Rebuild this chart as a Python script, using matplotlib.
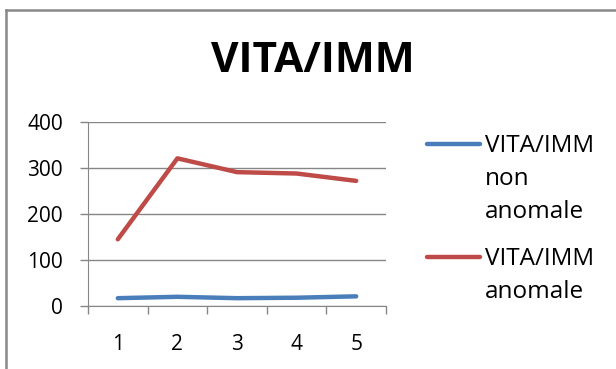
import matplotlib.pyplot as plt
from matplotlib.lines import Line2D

# dati
categorie = [1, 2, 3, 4, 5]
non_anomale = [17, 20, 17, 18, 21]
anomale = [145, 321, 291, 288, 272]
etichette = ['VITA/IMM\nnon\nanomale', 'VITA/IMM\nanomale']

blu = '#4A7EBB'
rosso = '#BE4B48'
grigio = '#868686'

plt.rcParams['font.family'] = ['Open Sans', 'DejaVu Sans']

fig = plt.figure(figsize=(6.16, 3.69), dpi=100)
ax = fig.add_axes([88 / 616, 1 - 306 / 369, 298 / 616, 184 / 369])

ax.plot(categorie, non_anomale, color=blu, lw=3.2, solid_capstyle='round')
ax.plot(categorie, anomale, color=rosso, lw=3.2, solid_capstyle='round')

ax.set_xlim(0.5, 5.5)
ax.set_ylim(0, 400)
ax.set_yticks([0, 100, 200, 300, 400])
ax.grid(axis='y', color=grigio, lw=1)
ax.set_axisbelow(True)

# tacche tra le categorie, etichette al centro
ax.set_xticks([0.5, 1.5, 2.5, 3.5, 4.5, 5.5])
ax.set_xticklabels([])
ax.set_xticks(categorie, minor=True)
ax.set_xticklabels([str(c) for c in categorie], minor=True)
ax.tick_params(axis='x', which='major', length=6, color=grigio, width=1)
ax.tick_params(axis='x', which='minor', length=0, pad=20, labelsize=15)
ax.tick_params(axis='y', length=6, color=grigio, width=1, pad=12, labelsize=15)

for s in ['top', 'right']:
    ax.spines[s].set_visible(False)
ax.spines['left'].set_color(grigio)
ax.spines['bottom'].set_color(grigio)

fig.text(0.508, 1 - 61 / 369, 'VITA/IMM', ha='center', va='center',
         fontsize=30.5, fontweight='bold')

# legenda
for ys, col, lab in [(144, blu, etichette[0]), (257, rosso, etichette[1])]:
    y = 1 - ys / 369
    fig.add_artist(Line2D([427 / 616, 480 / 616], [y, y], color=col, lw=3.2,
                          solid_capstyle='round'))
    fig.text(485 / 616, y + 0.028, lab, ha='left', va='top', fontsize=17.5,
             linespacing=1.5)

# cornice
fig.add_artist(Line2D([6 / 616, 1], [1 - 10 / 369, 1 - 10 / 369], color='#888888', lw=1.8))
fig.add_artist(Line2D([6 / 616, 6 / 616], [0, 1 - 10 / 369], color='#888888', lw=1.8))

fig.savefig('out.png', dpi=100)
